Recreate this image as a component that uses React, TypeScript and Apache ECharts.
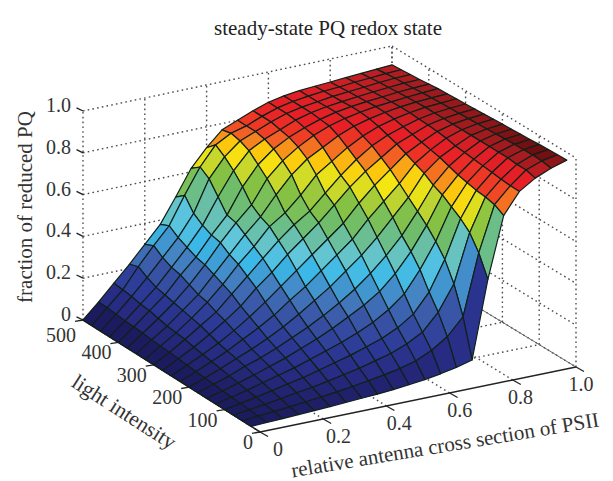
import React, { useEffect, useRef } from "react";
import * as echarts from "echarts";

const titleText = "steady-state PQ redox state";
const xAxisTitle = "relative antenna cross section of PSII";
const yAxisTitle = "light intensity";
const zAxisTitle = "fraction of reduced PQ";
const xTicks = [0, 0.2, 0.4, 0.6, 0.8, 1.0];
const xTickLabels = ["0", "0.2", "0.4", "0.6", "0.8", "1.0"];
const yTicks = [0, 100, 200, 300, 400, 500];
const zTicks = [0, 0.2, 0.4, 0.6, 0.8, 1.0];
const zTickLabels = ["0", "0.2", "0.4", "0.6", "0.8", "1.0"];
// columns: antenna cross section 0, 0.05 ... 1
const antenna = [0, .05, .1, .15, .2, .25, .3, .35, .4, .45, .5, .55, .6, .65, .7, .75, .8, .85, .9, .95, 1];
// rows: light intensity
const light = [25, 50, 75, 100, 125, 150, 175, 200, 225, 250, 275, 300, 325, 350, 375, 400, 425, 450, 475, 500];
const l25 = [0,.003,.006,.01,.013,.017,.021,.026,.03,.036,.044,.053,.065,.08,.10,.47,.76,.86,.908,.94,.963];
const l50 = [0,.006,.013,.02,.028,.036,.045,.055,.067,.08,.095,.115,.15,.20,.28,.57,.785,.86,.92,.948,.962];
const l75 = [0,.01,.02,.032,.045,.055,.07,.085,.10,.12,.14,.17,.21,.29,.41,.64,.795,.865,.92,.95,.96];
const l100 = [0,.013,.028,.043,.06,.075,.095,.115,.135,.16,.185,.22,.27,.36,.50,.68,.80,.87,.925,.948,.958];
const l125 = [0,.017,.035,.055,.075,.095,.12,.145,.17,.20,.235,.28,.34,.44,.56,.71,.81,.875,.925,.947,.955];
const l150 = [0,.02,.042,.065,.09,.115,.145,.175,.21,.25,.29,.34,.41,.50,.61,.74,.82,.88,.925,.945,.953];
const l175 = [0,.025,.05,.08,.105,.135,.17,.205,.245,.29,.34,.40,.47,.55,.65,.76,.835,.885,.925,.943,.95];
const l200 = [0,.028,.057,.09,.12,.155,.195,.24,.29,.34,.40,.46,.53,.61,.69,.79,.85,.89,.925,.94,.948];
const l225 = [0,.032,.065,.10,.14,.18,.225,.28,.33,.39,.45,.51,.59,.66,.73,.81,.86,.90,.925,.938,.945];
const l250 = [0,.036,.072,.11,.155,.205,.26,.32,.38,.44,.50,.56,.64,.71,.77,.83,.87,.905,.925,.936,.942];
const l275 = [0,.04,.08,.125,.175,.23,.30,.36,.43,.49,.55,.62,.69,.75,.80,.85,.88,.91,.925,.934,.94];
const l300 = [0,.043,.09,.14,.19,.26,.33,.40,.47,.53,.58,.65,.72,.78,.83,.865,.89,.912,.925,.932,.937];
const l325 = [0,.047,.095,.15,.21,.28,.36,.43,.51,.56,.63,.71,.76,.81,.85,.88,.90,.915,.925,.93,.935];
const l350 = [0,.05,.10,.16,.22,.30,.38,.46,.53,.62,.70,.76,.80,.84,.87,.89,.905,.916,.923,.928,.932];
const l375 = [0,.055,.11,.17,.24,.32,.41,.49,.56,.67,.74,.79,.83,.86,.88,.895,.906,.913,.92,.925,.93];
const l400 = [0,.058,.12,.18,.26,.33,.42,.50,.62,.71,.77,.81,.84,.865,.883,.895,.903,.91,.917,.921,.925];
const l425 = [0,.06,.125,.19,.27,.35,.44,.56,.67,.75,.79,.82,.85,.87,.883,.892,.90,.907,.913,.918,.92];
const l450 = [0,.065,.135,.21,.29,.37,.47,.62,.71,.77,.80,.83,.855,.87,.88,.89,.897,.903,.91,.915,.917];
const l475 = [0,.07,.14,.235,.32,.40,.53,.65,.74,.78,.80,.83,.855,.87,.88,.888,.893,.90,.905,.91,.913];
const l500 = [0,.07,.145,.22,.30,.38,.495,.617,.70,.77,.80,.83,.855,.87,.88,.885,.89,.895,.90,.905,.91];
const surface = [l25,l50,l75,l100,l125,l150,l175,l200,l225,l250,l275,l300,l325,l350,l375,l400,l425,l450,l475,l500];

// colour ramp (value, colour)
const rampValues = [0, .06, .12, .2, .27, .33, .38, .44, .5, .56, .61, .66, .71, .75, .79, .84, .875, .90, .92, .94, .956];
const rampColors = ["#1d1b5f","#272a80","#2c3795","#3956a6","#4585c4","#3bb8e8","#62c6da","#69bfa6","#6fbd6a","#85c143","#bcd331","#f4e613","#fdc70d","#f58220","#ef3e25","#e81f26","#e21f26","#c41e24","#a81c20","#8e1519","#5a0a0a"];

const W = 613, H = 481;
const corner = { ox: 260, oy: 432, xx: 316, xy: -65, yx: -177, yy: -112, xyx: -7, zh: 209 };
function project(x: number, y: number, z: number): [number, number] {
  const t = y / 500;
  return [
    corner.ox + corner.xx * x + corner.yx * t + corner.xyx * x * t,
    corner.oy + corner.xy * x + corner.yy * t - corner.zh * z,
  ];
}
function hex(c: string) { return [1, 3, 5].map((k) => parseInt(c.slice(k, k + 2), 16)); }
function colorOf(v: number) {
  if (v <= rampValues[0]) return rampColors[0];
  for (let k = 1; k < rampValues.length; k++) {
    if (v <= rampValues[k]) {
      const f = (v - rampValues[k - 1]) / (rampValues[k] - rampValues[k - 1]);
      const a = hex(rampColors[k - 1]), b = hex(rampColors[k]);
      return `rgb(${a.map((p, n) => Math.round(p + (b[n] - p) * f)).join(",")})`;
    }
  }
  return rampColors[rampColors.length - 1];
}

type Seg = { a: number[]; b: number[]; kind: "dot" | "axis" | "thin" };
function buildGuides(): Seg[] {
  const s: Seg[] = [];
  for (const z of zTicks) {
    s.push({ a: [0, 500, z], b: [1, 500, z], kind: "dot" });
    s.push({ a: [1, 500, z], b: [1, 0, z], kind: "dot" });
  }
  for (const x of xTicks) {
    s.push({ a: [x, 500, 0], b: [x, 500, 1], kind: "dot" });
    s.push({ a: [x, 0, 0], b: [x, 500, 0], kind: x === 1 ? "thin" : "dot" });
  }
  for (const y of yTicks) {
    s.push({ a: [1, y, 0], b: [1, y, 1], kind: "dot" });
    s.push({ a: [0, y, 0], b: [1, y, 0], kind: y === 0 ? "axis" : "dot" });
  }
  s.push({ a: [0, 0, 0], b: [0, 500, 0], kind: "axis" });
  return s;
}
const guides = buildGuides();

const font = "'Liberation Serif', 'Times New Roman', serif";
const textColor = "#333333";

type Cell = { i: number; j: number };
function buildCells(): Cell[] {
  const c: Cell[] = [];
  for (let j = light.length - 2; j >= 0; j--) {
    for (let i = antenna.length - 2; i >= 0; i--) c.push({ i, j });
  }
  return c;
}
const cells = buildCells();

type Lab = { text: string; px: number; py: number; align: string; size: number; rot?: number };
function buildLabels(): Lab[] {
  const l: Lab[] = [];
  xTicks.forEach((x, k) => {
    const p = project(x, 0, 0);
    l.push({ text: xTickLabels[k], px: p[0] + 18 - 13 * x, py: p[1] + 17, align: "center", size: 20 });
  });
  yTicks.forEach((y) => {
    const p = project(0, y, 0);
    l.push({ text: String(y), px: p[0] - 7, py: p[1] + (y === 500 ? 15 : 10), align: "right", size: 20 });
  });
  zTicks.forEach((z, k) => {
    const p = project(0, 500, z);
    l.push({ text: zTickLabels[k], px: p[0] - 12, py: p[1] - 6, align: "right", size: 20 });
  });
  l.push({ text: zAxisTitle, px: 25, py: 207, align: "center", size: 21, rot: Math.PI / 2 });
  l.push({ text: yAxisTitle, px: 124, py: 412, align: "center", size: 21.5, rot: -0.57 });
  l.push({ text: xAxisTitle, px: 445, py: 445, align: "center", size: 21, rot: 0.165 });
  return l;
}
const labels = buildLabels();

type Tick = { a: number[]; dx: number; dy: number };
function buildTicks(): Tick[] {
  const t: Tick[] = [];
  xTicks.forEach((x) => t.push({ a: [x, 0, 0], dx: 8, dy: 4.5 }));
  yTicks.forEach((y) => t.push({ a: [0, y, 0], dx: -8, dy: 1.3 }));
  zTicks.forEach((z) => t.push({ a: [0, 500, z], dx: -6.5, dy: -3.2 }));
  return t;
}
const ticks = buildTicks();

export default function App() {
  const ref = useRef<HTMLDivElement>(null);
  useEffect(() => {
    const chart = echarts.init(ref.current!, undefined, { renderer: "svg" });
    const c = (api: any, p: [number, number]) => api.coord(p);
    chart.setOption({
      animation: false,
      backgroundColor: "#ffffff",
      title: {
        text: titleText,
        left: 323,
        top: 12,
        textAlign: "center",
        textStyle: { fontFamily: font, fontSize: 21, fontWeight: "normal", color: "#222222" },
      },
      grid: { left: 0, right: 0, top: 0, bottom: 0 },
      xAxis: { type: "value", min: 0, max: W, show: false },
      yAxis: { type: "value", min: 0, max: H, inverse: true, show: false },
      series: [
        {
          type: "custom",
          name: "guides",
          coordinateSystem: "cartesian2d",
          clip: false,
          silent: true,
          z: 1,
          data: guides.map((_, k) => [k, 0]),
          renderItem: (params: any, api: any) => {
            const g = guides[params.dataIndex];
            const p1 = c(api, project(g.a[0], g.a[1], g.a[2]));
            const p2 = c(api, project(g.b[0], g.b[1], g.b[2]));
            const style =
              g.kind === "dot"
                ? { stroke: "#4d4d4d", lineWidth: 1.4, lineDash: [1.6, 3.2] }
                : g.kind === "axis"
                ? { stroke: "#222222", lineWidth: 1.5 }
                : { stroke: "#666666", lineWidth: 1 };
            return { type: "line", shape: { x1: p1[0], y1: p1[1], x2: p2[0], y2: p2[1] }, style };
          },
        },
        {
          type: "custom",
          name: "ticks",
          coordinateSystem: "cartesian2d",
          clip: false,
          silent: true,
          z: 2,
          data: ticks.map((_, k) => [k, 0]),
          renderItem: (params: any, api: any) => {
            const t = ticks[params.dataIndex];
            const p1 = c(api, project(t.a[0], t.a[1], t.a[2]));
            return {
              type: "line",
              shape: { x1: p1[0], y1: p1[1], x2: p1[0] + t.dx, y2: p1[1] + t.dy },
              style: { stroke: "#222222", lineWidth: 1.3 },
            };
          },
        },
        {
          type: "custom",
          name: "surface",
          coordinateSystem: "cartesian2d",
          clip: false,
          silent: true,
          z: 3,
          data: cells.map((_, k) => [k, 0]),
          renderItem: (params: any, api: any) => {
            const { i, j } = cells[params.dataIndex];
            const pts = [
              [i, j],
              [i + 1, j],
              [i + 1, j + 1],
              [i, j + 1],
            ].map(([a, b]) => c(api, project(antenna[a], light[b], surface[b][a])));
            return {
              type: "polygon",
              shape: { points: pts },
              style: { fill: colorOf(surface[j][i]), stroke: "#10201a", lineWidth: 1.2, lineJoin: "round" },
            };
          },
        },
        {
          type: "custom",
          name: "labels",
          coordinateSystem: "cartesian2d",
          clip: false,
          silent: true,
          z: 4,
          data: labels.map((_, k) => [k, 0]),
          renderItem: (params: any, api: any) => {
            const l = labels[params.dataIndex];
            const p = c(api, [l.px, l.py]);
            return {
              type: "text",
              x: p[0],
              y: p[1],
              rotation: l.rot || 0,
              style: {
                text: l.text,
                fontFamily: font,
                fontSize: l.size,
                fill: textColor,
                align: l.align,
                verticalAlign: "middle",
              },
            };
          },
        },
      ],
    });
    return () => chart.dispose();
  }, []);
  return <div ref={ref} style={{ position: "fixed", left: 0, top: 0, width: W, height: H }} />;
}
